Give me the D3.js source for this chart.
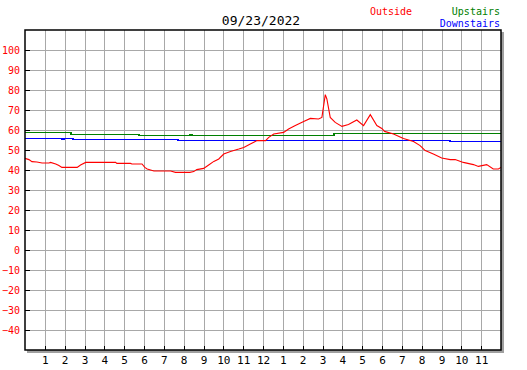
<!DOCTYPE html>
<html><head><meta charset="utf-8">
<script src="https://cdn.jsdelivr.net/npm/d3@7"></script>
<style>body{margin:0;background:#fff}svg{display:block}</style>
</head><body>
<svg id="c" width="527" height="370"></svg>
<script>
const title = "09/23/2022";
const seriesNames = ["Outside", "Upstairs", "Downstairs"];
const seriesColors = ["#ff0000", "#008000", "#0000ff"];
const yTicks = [-40,-30,-20,-10,0,10,20,30,40,50,60,70,80,90,100];
const xTickHours = [1,2,3,4,5,6,7,8,9,10,11,12,13,14,15,16,17,18,19,20,21,22,23];
const xTickLabels = ["1","2","3","4","5","6","7","8","9","10","11","12","1","2","3","4","5","6","7","8","9","10","11"];

// Outside: time (hours since midnight) and temperature
const outsideHours = [0,0.2,0.35,0.6,0.86,1.21,1.29,1.55,1.71,1.86,2.63,2.8,3.06,4.57,4.63,5.32,5.39,5.9,6.04,6.16,6.5,7.34,7.59,8.31,8.51,8.66,9.01,9.26,9.52,9.77,10.02,10.36,10.78,11.03,11.36,11.7,12.13,12.29,12.54,13.04,13.29,13.63,14.05,14.39,14.8,14.97,15.14,15.22,15.39,15.64,15.98,16.31,16.73,17.07,17.41,17.74,17.99,18.13,18.58,19.08,19.59,19.92,20.18,20.59,21.01,21.44,21.69,22.1,22.61,22.86,23.28,23.61,23.87,24];
const outsideTemps = [45.8,45.2,44.2,44.0,43.5,43.5,43.8,43.0,42.2,41.3,41.3,42.5,43.8,43.8,43.3,43.3,43.0,43.0,41.3,40.5,39.5,39.5,38.8,38.8,39.2,40.2,40.8,42.5,44.3,45.5,48,49.3,50.5,51.3,53,54.7,54.7,56.3,58,58.8,60.5,62.2,64.3,65.8,65.5,66.3,77.7,75.5,66.3,63.8,61.8,62.7,65,62.2,67.7,62.2,60.8,59.3,58,55.8,54.2,52.2,49.7,48,46,45.2,45.2,43.8,42.7,41.8,42.7,40.5,40.5,41.3];

// Upstairs (step values)
const upHours = [0,2.3,2.3,5.74,5.74,7.85,7.85,8.33,8.33,8.4,8.4,15.56,15.56,24];
const upTemps = [58.8,58.8,58.2,58.2,57.7,57.7,57.3,57.3,57.8,57.8,57.3,57.3,58.3,58.3];

// Downstairs (step values)
const downHours = [0,1.85,1.85,1.95,1.95,2.42,2.42,7.7,7.7,12.64,12.64,21.45,21.45,24];
const downTemps = [55.8,55.8,55.3,55.3,55.8,55.8,55.3,55.3,54.8,54.8,55.2,55.2,54.7,54.7];

const svg = d3.select("#c");
const L = 25, R = 501, T = 30, B = 350;
const x = d3.scaleLinear().domain([0,24]).range([L,R]);
const y = d3.scaleLinear().domain([-50,110]).range([B,T]);
const px = v => Math.round(v) + 0.5;

// shadow
svg.append("rect").attr("x",L+2).attr("y",T+2).attr("width",R-L+1).attr("height",B-T+1).attr("fill","#a0a0a0");
svg.append("rect").attr("x",L).attr("y",T).attr("width",R-L).attr("height",B-T).attr("fill","#fff");

// grid
const g = svg.append("g").attr("shape-rendering","crispEdges");
g.selectAll(".vg").data(xTickHours).join("line")
  .attr("x1",d=>px(x(d))).attr("x2",d=>px(x(d))).attr("y1",T).attr("y2",B)
  .attr("stroke","#a8a8a8").attr("stroke-width",1);
g.selectAll(".hg").data(yTicks).join("line")
  .attr("x1",L).attr("x2",R).attr("y1",d=>px(y(d))).attr("y2",d=>px(y(d)))
  .attr("stroke","#a8a8a8").attr("stroke-width",1);
// inside ticks
g.selectAll(".yt").data(yTicks).join("line")
  .attr("x1",L).attr("x2",L+5).attr("y1",d=>px(y(d))).attr("y2",d=>px(y(d)))
  .attr("stroke","#000").attr("stroke-width",1);
g.selectAll(".xt").data(xTickHours).join("line")
  .attr("x1",d=>px(x(d))).attr("x2",d=>px(x(d))).attr("y1",B-4).attr("y2",B)
  .attr("stroke","#000").attr("stroke-width",1);

// series
const line = d3.line().x(d=>x(d[0])).y(d=>y(d[1]));
const stepLine = d3.line().x(d=>Math.round(x(d[0]))).y(d=>px(y(d[1])));
svg.append("path").datum(d3.zip(upHours, upTemps)).attr("d",stepLine).attr("fill","none")
  .attr("stroke",seriesColors[1]).attr("stroke-width",1.2).attr("shape-rendering","crispEdges");
svg.append("path").datum(d3.zip(downHours, downTemps)).attr("d",stepLine).attr("fill","none")
  .attr("stroke",seriesColors[2]).attr("stroke-width",1.2).attr("shape-rendering","crispEdges");
svg.append("path").datum(d3.zip(outsideHours, outsideTemps)).attr("d",line).attr("fill","none")
  .attr("stroke",seriesColors[0]).attr("stroke-width",1.1);

// border
svg.append("rect").attr("x",L).attr("y",T).attr("width",R-L).attr("height",B-T)
  .attr("fill","none").attr("stroke","#000").attr("stroke-width",1.5);

// y labels (axis)
const ya = svg.append("g").attr("transform",`translate(${L},0)`)
  .call(d3.axisLeft(y).tickValues(yTicks).tickSize(0).tickPadding(5));
ya.select(".domain").remove();
ya.selectAll("text").attr("fill","#ff0000").attr("font-family","DejaVu Sans Mono").attr("font-size",10);

// x labels
const xa = svg.append("g").attr("transform",`translate(0,${B})`)
  .call(d3.axisBottom(x).tickValues(xTickHours).tickFormat((d,i)=>xTickLabels[i]).tickSize(0).tickPadding(6));
xa.select(".domain").remove();
xa.selectAll("text").attr("fill","#000").attr("font-family","DejaVu Sans Mono").attr("font-size",11);

// title
svg.append("text").attr("x",261).attr("y",25).attr("text-anchor","middle")
  .attr("font-family","DejaVu Sans Mono").attr("font-size",13).attr("fill","#000").text(title);

// legend
svg.append("text").attr("x",370).attr("y",15).attr("font-family","DejaVu Sans Mono").attr("font-size",10)
  .attr("fill",seriesColors[0]).text(seriesNames[0]);
svg.append("text").attr("x",500).attr("y",15).attr("text-anchor","end").attr("font-family","DejaVu Sans Mono").attr("font-size",10)
  .attr("fill",seriesColors[1]).text(seriesNames[1]);
svg.append("text").attr("x",500).attr("y",27).attr("text-anchor","end").attr("font-family","DejaVu Sans Mono").attr("font-size",10)
  .attr("fill",seriesColors[2]).text(seriesNames[2]);
</script>
</body></html>
